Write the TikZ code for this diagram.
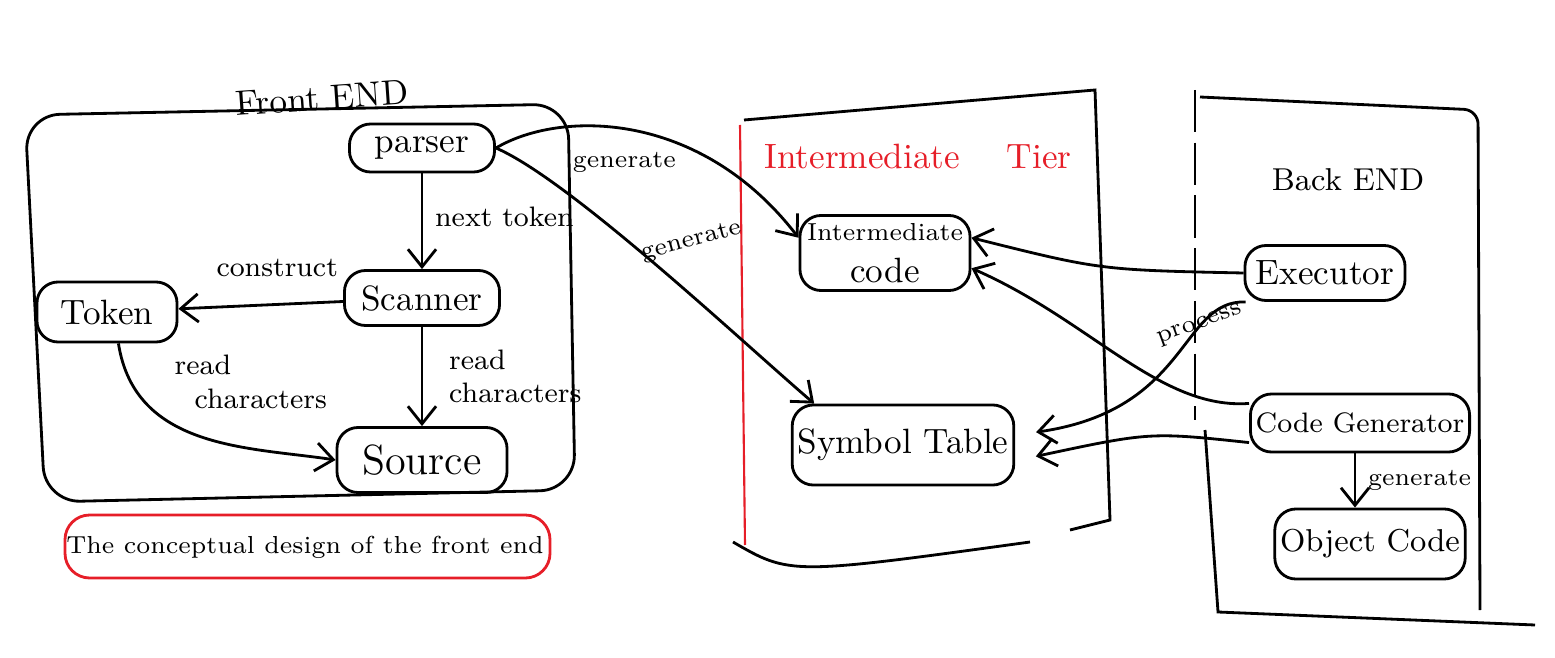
\documentclass[tikz,border=0pt]{standalone}
\usepackage{tikz}
\usetikzlibrary{arrows.meta}
\definecolor{penred}{RGB}{230,30,40}

\tikzset{
	module/.style={draw,thick,rounded corners=6pt,align=center,inner sep=1.5pt},
	lbl/.style={font=\footnotesize,align=left},
	flow/.style={thick,-{Straight Barb[length=5pt,width=8pt]}}
}

\begin{document}
\begin{tikzpicture}[x=0.01cm,y=-0.01cm]
	\useasboundingbox (0,0) rectangle (1555,658);
	% containers
	\draw[thick,rounded corners=10pt] (25,115) -- (568,104) -- (575,490) -- (45,502) -- cycle;
	\node[rotate=4] (fetitle) at (322,98) {Front END};
	\draw[thick,penred,rounded corners=7pt] (65,515) rectangle (550,578);
	\node[font=\scriptsize] (caption) at (305,547) {The conceptual design of the front end};

	\draw[semithick,penred] (740,125) -- (745,545);
	\draw[thick] (744,120) -- (1095,90) -- (1110,520) -- (1070,530);
	\draw[thick] (733,542) .. controls (790,575) .. (1030,542);
	\node[penred] (ittitle) at (918,156) {Intermediate\quad\ Tier};

	\draw[thick,dash pattern=on 12pt off 3pt] (1195,90) -- (1195,420);
	\draw[thick] (1205,430) -- (1218,612) -- (1535,625);
	\draw[thick,rounded corners=4pt] (1200,97) -- (1478,110) -- (1480,610);
	\node[font=\small] (betitle) at (1348,180) {Back END};

	% modules
	\node[module,minimum width=1.45cm,minimum height=0.48cm] (parser) at (422,148) {parser};
	\node[module,minimum width=1.55cm,minimum height=0.55cm] (scanner) at (422,298) {Scanner};
	\node[module,minimum width=1.4cm,minimum height=0.6cm] (token) at (107,312) {Token};
	\node[module,minimum width=1.7cm,minimum height=0.65cm,font=\large] (source) at (422,460) {Source};
	\node[module,minimum width=1.7cm,minimum height=0.75cm] (icode) at (885,253) {{\scriptsize Intermediate}\\code};
	\node[module,minimum width=2.05cm,minimum height=0.8cm] (symtab) at (903,445) {Symbol Table};
	\node[module,minimum width=1.6cm,minimum height=0.55cm] (executor) at (1325,273) {Executor};
	\node[module,minimum width=2.1cm,minimum height=0.58cm,font=\footnotesize] (codegen) at (1360,423) {Code Generator};
	\node[module,minimum width=1.8cm,minimum height=0.7cm,font=\small] (objcode) at (1370,544) {Object Code};

	% front end flows
	\draw[flow] (parser) -- node[lbl,right,pos=0.45] {next token} (scanner);
	\draw[flow] (scanner) -- node[lbl,above,pos=0.4,yshift=4pt] {construct} (token);
	\draw[flow] (scanner) -- node[lbl,right,xshift=4pt] {read\\characters} (source);
	\draw[flow] (token.290) .. controls (135,450) and (250,447) .. (source.west)
		node[lbl,pos=0.36,above right,xshift=-2pt] {read\\\ \ characters};

	% into the intermediate tier
	\draw[flow] (parser.east) .. controls (560,110) and (700,110) .. (icode.170)
		node[font=\scriptsize,pos=0.47,below,yshift=-3pt] {generate};
	\draw[flow] (parser.east) .. controls (570,180) and (740,340) .. (symtab.155)
		node[font=\scriptsize,pos=0.5,above,xshift=12pt,rotate=15] {generate};

	% back end flows
	\draw[flow] (executor.west) .. controls (1100,270) .. (icode.10);
	\draw[flow,shorten >=6pt] (executor.200) .. controls (1180,300) and (1190,410) .. (symtab.5)
		node[font=\scriptsize,pos=0.3,rotate=20] {process};
	\draw[flow] (codegen.170) .. controls (1160,410) and (1090,320) .. (icode.-10);
	\draw[flow,shorten >=6pt] (codegen.190) .. controls (1150,432) .. (symtab.-8);
	\draw[flow] (codegen.south -| 1355,0) -- node[font=\scriptsize,right] {generate} (objcode.north -| 1355,0);
\end{tikzpicture}
\end{document}
